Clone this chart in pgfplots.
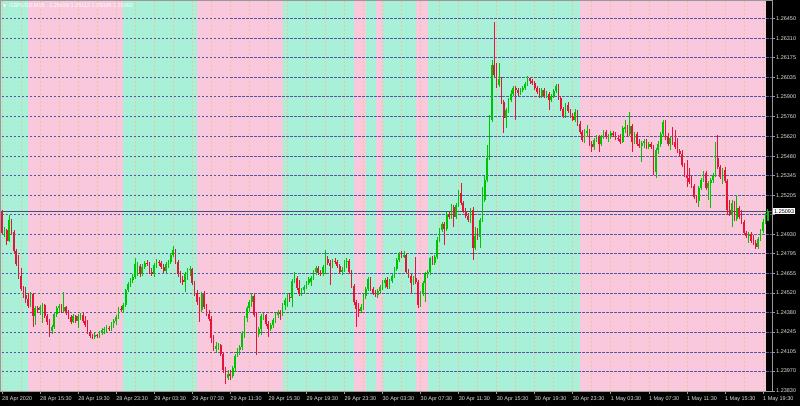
\documentclass[border=0pt]{standalone}
\usepackage{pgfplots}
\pgfplotsset{compat=1.18}
\usepackage{pgfplotstable}
\usepackage{fontspec}
\setmainfont{Liberation Sans}
\newfontfamily\symfont{DejaVu Sans}
\definecolor{bandg}{RGB}{168,240,216}
\definecolor{bandp}{RGB}{249,200,221}
\definecolor{upc}{RGB}{0,196,0}
\definecolor{dnc}{RGB}{232,20,55}
\definecolor{gridc}{RGB}{85,85,165}
\definecolor{vgridc}{RGB}{238,198,150}
\definecolor{bidc}{RGB}{75,75,125}
\definecolor{labc}{RGB}{225,225,225}

\pgfplotstableread{
k o h l c
0 5089 5103 4934 4941
1 4941 4983 4913 4962
2 4962 4969 4857 4885
3 4885 5068 4878 5032
4 5032 5039 4927 4948
5 4948 4962 4793 4814
6 4814 4829 4709 4723
7 4723 4786 4618 4639
8 4639 4695 4533 4547
9 4547 4568 4484 4505
10 4505 4561 4449 4477
11 4477 4519 4414 4428
12 4428 4526 4421 4512
13 4512 4519 4280 4358
14 4358 4428 4294 4414
15 4414 4428 4379 4400
16 4400 4435 4365 4421
17 4390 4449 4308 4435
18 4435 4442 4343 4358
19 4358 4372 4294 4315
20 4315 4336 4210 4252
21 4252 4294 4231 4280
22 4280 4386 4266 4372
23 4372 4428 4350 4414
24 4414 4442 4386 4428
25 4428 4442 4379 4386
26 4393 4526 4386 4421
27 4421 4428 4365 4379
28 4379 4400 4336 4350
29 4350 4365 4301 4315
30 4315 4372 4308 4358
31 4358 4365 4308 4322
32 4322 4372 4273 4358
33 4358 4379 4329 4365
34 4365 4379 4308 4322
35 4322 4358 4280 4294
36 4294 4329 4231 4245
37 4245 4259 4203 4217
38 4217 4231 4196 4210
39 4210 4238 4196 4224
40 4224 4231 4203 4217
41 4217 4252 4203 4238
42 4238 4273 4224 4259
43 4259 4280 4231 4266
44 4266 4294 4245 4273
45 4273 4287 4252 4266
46 4266 4315 4252 4308
47 4308 4336 4273 4322
48 4322 4365 4294 4350
49 4350 4421 4336 4407
50 4407 4428 4386 4400
51 4400 4449 4379 4435
52 4435 4547 4421 4540
53 4540 4597 4526 4582
54 4582 4625 4561 4611
55 4611 4653 4590 4632
56 4632 4765 4618 4723
57 4681 4737 4639 4709
58 4709 4723 4632 4653
59 4653 4723 4639 4702
60 4702 4744 4688 4730
61 4730 4751 4709 4723
62 4723 4737 4653 4667
63 4667 4695 4639 4653
64 4653 4730 4632 4716
65 4716 4758 4695 4737
66 4737 4751 4709 4730
67 4730 4744 4688 4702
68 4702 4723 4660 4674
69 4674 4737 4660 4723
70 4723 4751 4695 4737
71 4737 4800 4723 4786
72 4786 4850 4772 4821
73 4821 4829 4723 4737
74 4737 4751 4632 4653
75 4653 4674 4590 4611
76 4611 4639 4575 4597
77 4597 4667 4526 4653
78 4653 4695 4611 4681
79 4681 4709 4639 4688
80 4688 4695 4575 4590
81 4590 4604 4498 4519
82 4519 4540 4435 4456
83 4456 4491 4315 4400
84 4400 4526 4386 4512
85 4512 4533 4407 4421
86 4421 4442 4358 4372
87 4372 4400 4322 4336
88 4336 4358 4168 4203
89 4203 4224 4111 4126
90 4126 4175 4097 4147
91 4147 4168 4118 4154
92 4154 4161 4076 4090
93 4090 4104 3957 3978
94 3978 3999 3879 3922
95 3922 3978 3908 3950
96 3950 3978 3908 3936
97 3936 4006 3922 3992
98 3992 4090 3964 4076
99 4076 4133 4069 4118
100 4118 4154 4083 4140
101 4140 4252 4118 4238
102 4238 4358 4203 4343
103 4343 4428 4315 4414
104 4414 4470 4386 4456
105 4456 4512 4421 4498
106 4498 4512 4350 4365
107 4365 4386 4083 4231
108 4231 4280 4210 4266
109 4266 4372 4224 4358
110 4350 4379 4329 4365
111 4365 4372 4287 4301
112 4301 4322 4210 4266
113 4266 4308 4252 4294
114 4294 4343 4273 4329
115 4329 4379 4308 4365
116 4365 4400 4343 4386
117 4386 4400 4329 4372
118 4372 4449 4358 4435
119 4435 4484 4400 4470
120 4470 4519 4421 4491
121 4491 4519 4456 4484
122 4484 4618 4421 4604
123 4604 4667 4590 4625
124 4625 4639 4540 4554
125 4554 4611 4498 4512
126 4512 4554 4498 4540
127 4540 4575 4519 4561
128 4561 4604 4547 4590
129 4590 4632 4575 4618
130 4597 4639 4568 4625
131 4625 4681 4611 4667
132 4667 4709 4646 4695
133 4695 4709 4646 4660
134 4660 4681 4639 4653
135 4653 4716 4639 4702
136 4702 4821 4653 4758
137 4758 4779 4716 4730
138 4730 4751 4575 4709
139 4709 4758 4695 4744
140 4744 4765 4723 4737
141 4737 4751 4695 4709
142 4709 4723 4653 4667
143 4667 4702 4646 4681
144 4681 4751 4667 4737
145 4737 4765 4695 4744
146 4744 4758 4653 4667
147 4667 4681 4554 4568
148 4568 4582 4435 4456
149 4456 4470 4280 4407
150 4407 4449 4350 4393
151 4393 4442 4379 4421
152 4421 4512 4400 4498
153 4498 4561 4477 4547
154 4547 4632 4533 4618
155 4618 4632 4533 4547
156 4547 4561 4505 4519
157 4519 4540 4491 4505
158 4505 4547 4484 4533
159 4533 4575 4512 4561
160 4561 4611 4540 4590
161 4590 4625 4554 4611
162 4611 4632 4547 4561
163 4561 4618 4547 4604
164 4604 4653 4590 4639
165 4639 4702 4625 4688
166 4688 4765 4674 4751
167 4751 4807 4737 4793
168 4793 4814 4765 4779
169 4779 4814 4765 4786
170 4786 4800 4653 4667
171 4667 4688 4625 4639
172 4639 4653 4519 4590
173 4590 4639 4575 4625
174 4625 4772 4582 4597
175 4597 4611 4414 4435
176 4435 4533 4421 4519
177 4519 4604 4498 4590
178 4590 4667 4456 4653
179 4653 4681 4625 4667
180 4667 4772 4646 4765
181 4765 4779 4716 4730
182 4730 4786 4716 4772
183 4772 4913 4758 4892
184 4892 4976 4878 4962
185 4962 5018 4948 5004
186 5004 5018 4857 4969
187 4969 5089 4955 5075
188 5075 5089 5039 5053
189 5053 5145 5039 5124
190 5124 5138 4983 5053
191 5053 5152 5039 5138
192 5138 5243 5124 5222
193 5222 5293 5138 5152
194 5152 5166 5082 5096
195 5096 5117 5046 5061
196 5061 5082 5018 5032
197 5032 5117 5011 5103
198 5103 5124 4751 4836
199 4836 4983 4821 4920
200 4920 4976 4892 4913
201 4913 5046 4836 5032
202 5032 5264 5018 5173
203 5173 5342 5159 5314
204 5314 5560 5300 5468
205 5468 5771 5454 5735
206 5735 6157 5721 6122
207 6122 6424 6038 6052
208 6052 6136 5960 5981
209 5981 6136 5967 6024
210 6024 6038 5848 5862
211 5862 5876 5644 5749
212 5749 5820 5679 5806
213 5806 5890 5785 5876
214 5876 5946 5862 5918
215 5918 5974 5904 5960
216 5960 5974 5735 5946
217 5946 5960 5904 5925
218 5925 5960 5911 5946
219 5946 5974 5932 5960
220 5960 6003 5946 5988
221 5988 6045 5974 6031
222 6031 6038 5988 6010
223 6010 6024 5981 5996
224 5996 6010 5946 5960
225 5960 5974 5918 5932
226 5932 5960 5890 5904
227 5904 5960 5890 5946
228 5946 5960 5890 5904
229 5904 5939 5890 5918
230 5918 5932 5806 5876
231 5876 5918 5862 5904
232 5904 5953 5890 5939
233 5939 5988 5925 5974
234 5974 5988 5876 5890
235 5890 5904 5799 5813
236 5813 5827 5749 5764
237 5764 5855 5749 5841
238 5841 5862 5785 5799
239 5799 5813 5749 5764
240 5764 5785 5728 5735
241 5735 5813 5721 5792
242 5792 5806 5693 5707
243 5707 5728 5637 5651
244 5651 5665 5581 5595
245 5595 5672 5574 5644
246 5644 5700 5616 5658
247 5658 5672 5553 5567
248 5567 5588 5510 5546
249 5546 5609 5524 5595
250 5595 5630 5581 5616
251 5616 5630 5510 5567
252 5567 5630 5553 5616
253 5616 5665 5602 5651
254 5651 5665 5602 5616
255 5616 5637 5581 5623
256 5623 5658 5602 5644
257 5644 5658 5616 5630
258 5630 5651 5595 5609
259 5609 5630 5588 5602
260 5602 5637 5567 5581
261 5581 5693 5574 5679
262 5679 5735 5644 5686
263 5686 5700 5623 5637
264 5637 5792 5623 5693
265 5693 5707 5510 5581
266 5581 5651 5567 5637
267 5637 5651 5553 5567
268 5567 5602 5539 5553
269 5553 5588 5440 5574
270 5574 5602 5539 5588
271 5588 5602 5532 5546
272 5546 5581 5532 5567
273 5567 5581 5532 5546
274 5546 5560 5349 5370
275 5370 5539 5328 5524
276 5524 5588 5496 5567
277 5567 5651 5546 5637
278 5637 5735 5616 5721
279 5721 5735 5595 5623
280 5623 5644 5553 5567
281 5567 5623 5524 5609
282 5609 5686 5560 5581
283 5581 5665 5532 5546
284 5546 5609 5503 5517
285 5517 5532 5482 5496
286 5496 5524 5405 5419
287 5419 5433 5335 5349
288 5349 5454 5264 5328
289 5328 5398 5285 5300
290 5300 5342 5257 5271
291 5271 5285 5180 5194
292 5194 5208 5152 5166
293 5166 5271 5124 5257
294 5257 5328 5243 5314
295 5314 5377 5300 5363
296 5363 5377 5243 5257
297 5257 5307 5173 5293
298 5293 5328 5117 5314
299 5314 5363 5293 5349
300 5349 5581 5335 5468
301 5468 5630 5391 5405
302 5405 5419 5321 5335
303 5335 5398 5285 5384
304 5384 5405 5293 5307
305 5307 5321 5068 5103
306 5103 5173 5061 5075
307 5075 5173 4983 5152
308 5152 5166 5025 5039
309 5039 5208 5025 5117
310 5117 5131 5039 5053
311 5053 5103 5004 5018
312 5018 5032 4927 4941
313 4941 4955 4906 4920
314 4920 4948 4871 4934
315 4934 4948 4871 4885
316 4885 4927 4857 4871
317 4871 4892 4829 4843
318 4843 4913 4829 4899
319 4899 4969 4885 4955
320 4955 5039 4941 5018
321 5018 5082 5004 5029
322 5029 5112 5029 5093
}\candles

\begin{document}
\begin{tikzpicture}[x=1pt,y=1pt]
\fill[black] (0,0) rectangle (800,406);
\begin{axis}[
  at={(0pt,15pt)}, anchor=south west,
  width=772pt, height=391pt, scale only axis,
  xmin=-0.84, xmax=323.8, ymin=3830, ymax=6579,
  axis on top,
  axis line style={draw=gray!80, line width=0.8pt},
  tick align=outside,
  major tick length=3pt, minor tick length=0pt,
  tick style={draw=gray!80, line width=0.6pt},
  xtick={0,16,...,320},
  xticklabels={28 Apr 2020,28 Apr 15:30,28 Apr 19:30,28 Apr 23:30,29 Apr 03:30,29 Apr 07:30,29 Apr 11:30,29 Apr 15:30,29 Apr 19:30,29 Apr 23:30,30 Apr 03:30,30 Apr 07:30,30 Apr 11:30,30 Apr 15:30,30 Apr 19:30,30 Apr 23:30,1 May 03:30,1 May 07:30,1 May 11:30,1 May 15:30,1 May 19:30},
  xtick pos=left, xticklabel pos=left,
  xticklabel style={anchor=north west, inner sep=0pt, yshift=-2pt, xshift=0pt, font=\fontsize{5.5}{6}\selectfont, text=labc},
  ytick={6450,6310,6175,6035,5900,5760,5620,5480,5345,5205,5070,4930,4795,4655,4520,4380,4245,4105,3970,3830},
  yticklabels={1.26450,1.26310,1.26175,1.26035,1.25900,1.25760,1.25620,1.25480,1.25345,1.25205,{},1.24930,1.24795,1.24655,1.24520,1.24380,1.24245,1.24105,1.23970,1.23830},
  ytick pos=right, yticklabel pos=right,
  yticklabel style={anchor=west, inner sep=0pt, xshift=1pt, font=\fontsize{5.5}{6}\selectfont, text=labc},
  clip=true,
]
% background bands
\addplot[fill=bandg, draw=none, forget plot] coordinates {(-0.84,3830) (321.3,3830) (321.3,6579) (-0.84,6579)} -- cycle;
\addplot[fill=bandp, draw=none, forget plot] coordinates {(10.9,3830) (50.9,3830) (50.9,6579) (10.9,6579)} -- cycle;
\addplot[fill=bandp, draw=none, forget plot] coordinates {(82.0,3830) (118.2,3830) (118.2,6579) (82.0,6579)} -- cycle;
\addplot[fill=bandp, draw=none, forget plot] coordinates {(148.0,3830) (153.1,3830) (153.1,6579) (148.0,6579)} -- cycle;
\addplot[fill=bandp, draw=none, forget plot] coordinates {(157.3,3830) (160.2,3830) (160.2,6579) (157.3,6579)} -- cycle;
\addplot[fill=bandp, draw=none, forget plot] coordinates {(174.1,3830) (179.1,3830) (179.1,6579) (174.1,6579)} -- cycle;
\addplot[fill=bandp, draw=none, forget plot] coordinates {(243.1,3830) (321.3,3830) (321.3,6579) (243.1,6579)} -- cycle;
% grid
\addplot[ycomb, mark=none, draw=vgridc, dash pattern=on 2pt off 2pt, line width=0.6pt, forget plot] coordinates {(0,6579)(8,6579)(16,6579)(24,6579)(32,6579)(40,6579)(48,6579)(56,6579)(64,6579)(72,6579)(80,6579)(88,6579)(96,6579)(104,6579)(112,6579)(120,6579)(128,6579)(136,6579)(144,6579)(152,6579)(160,6579)(168,6579)(176,6579)(184,6579)(192,6579)(200,6579)(208,6579)(216,6579)(224,6579)(232,6579)(240,6579)(248,6579)(256,6579)(264,6579)(272,6579)(280,6579)(288,6579)(296,6579)(304,6579)(312,6579)(320,6579)};
\addplot[xcomb, mark=none, draw=gridc, dash pattern=on 2.5pt off 1.5pt, line width=0.7pt, forget plot] coordinates {(323.8,6450)(323.8,6310)(323.8,6175)(323.8,6035)(323.8,5900)(323.8,5760)(323.8,5620)(323.8,5480)(323.8,5345)(323.8,5205)(323.8,5070)(323.8,4930)(323.8,4795)(323.8,4655)(323.8,4520)(323.8,4380)(323.8,4245)(323.8,4105)(323.8,3970)};
% bid line
\addplot[bidc, line width=1pt, forget plot] coordinates {(-0.84,5093) (323.8,5093)};
% wicks
\addplot[forget plot, draw=none, mark=none,
  error bars/.cd, y dir=both, y explicit, error mark=none,
  error bar style={solid, line width=0.7pt, draw=upc}]
  table[x=k, y expr={(\thisrow{c}>=\thisrow{o}) ? 0.5*(\thisrow{h}+\thisrow{l}) : nan}, y error expr={0.5*(\thisrow{h}-\thisrow{l})}] {\candles};
\addplot[forget plot, draw=none, mark=none,
  error bars/.cd, y dir=both, y explicit, error mark=none,
  error bar style={solid, line width=0.7pt, draw=dnc}]
  table[x=k, y expr={(\thisrow{c}<\thisrow{o}) ? 0.5*(\thisrow{h}+\thisrow{l}) : nan}, y error expr={0.5*(\thisrow{h}-\thisrow{l})}] {\candles};
% bodies
\addplot[forget plot, draw=none, mark=none,
  error bars/.cd, y dir=both, y explicit, error mark=none,
  error bar style={solid, line width=1.7pt, draw=upc}]
  table[x=k, y expr={(\thisrow{c}>=\thisrow{o}) ? 0.5*(\thisrow{o}+\thisrow{c}) : nan}, y error expr={0.5*abs(\thisrow{c}-\thisrow{o})+2}] {\candles};
\addplot[forget plot, draw=none, mark=none,
  error bars/.cd, y dir=both, y explicit, error mark=none,
  error bar style={solid, line width=1.7pt, draw=dnc}]
  table[x=k, y expr={(\thisrow{c}<\thisrow{o}) ? 0.5*(\thisrow{o}+\thisrow{c}) : nan}, y error expr={0.5*abs(\thisrow{c}-\thisrow{o})+2}] {\candles};
\coordinate (bid) at (axis cs:323.8,5093);
\end{axis}
\node[fill=white, text=black, anchor=west, inner xsep=1pt, inner ysep=1pt, font=\fontsize{5.5}{6}\selectfont] at ([xshift=1pt]bid) {1.25093};
\node[anchor=west, inner sep=0pt, text=white, font=\fontsize{5.5}{6}\selectfont] at (3,400.5) {{\symfont\fontsize{4}{5}\selectfont ▼}\hspace{3pt}GBPUSD,M15\hspace{3pt} 1.25029 1.25112 1.25029 1.25093};
\pgfresetboundingbox
\path[use as bounding box] (0,0) rectangle (800,406);
\end{tikzpicture}
\end{document}
